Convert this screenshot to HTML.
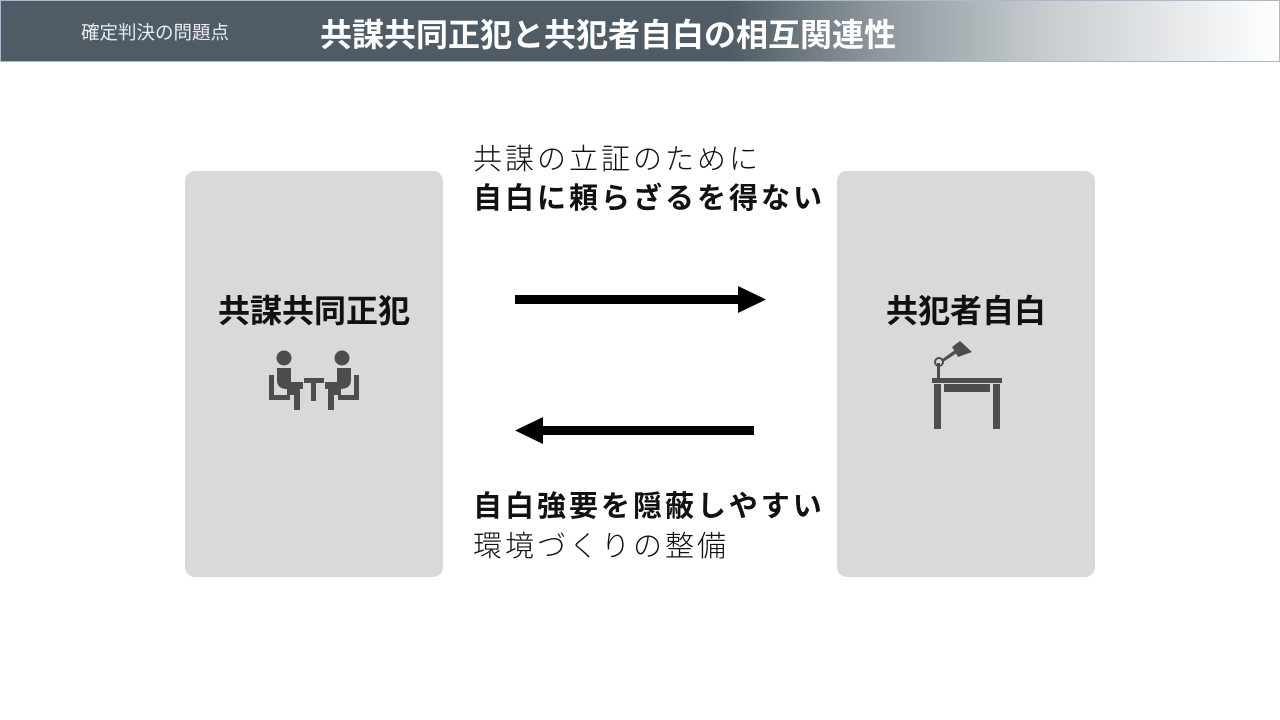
<!DOCTYPE html>
<html><head><meta charset="utf-8"><style>
body{margin:0;width:1280px;height:720px;background:#fff;position:relative;overflow:hidden;font-family:"Liberation Sans","Noto Sans CJK JP",sans-serif;}
.hdr{position:absolute;left:0;top:0;width:1278px;height:60px;border:1px solid #aab8d0;background:linear-gradient(90deg,#4f5c65 0%,#4f5c65 57%,#8a949a 68%,#c8cdd0 82%,#ffffff 100%);}
.sub{position:absolute;left:80px;top:18px;font-size:18.5px;color:#e8ecee;}
.ttl{position:absolute;left:319px;top:9px;font-size:32px;font-weight:bold;color:#fff;}
.box{position:absolute;top:171px;width:258px;height:406px;background:#d9d9d9;border-radius:10px;}
.lbl{position:absolute;width:100%;text-align:center;top:115px;font-size:32px;font-weight:bold;color:#111;}
.t{position:absolute;left:473px;font-size:29px;letter-spacing:3px;color:#111;white-space:nowrap;line-height:40px;}
.l{font-weight:300;}
.b{font-weight:bold;}
</style></head><body>
<div class="hdr"><div class="sub">確定判決の問題点</div><div class="ttl">共謀共同正犯と共犯者自白の相互関連性</div></div>
<div class="box" style="left:185px"><div class="lbl">共謀共同正犯</div>
<svg style="position:absolute;left:84px;top:178px" width="90" height="62" viewBox="0 0 90 62">
<g fill="#4d4d4d">
<circle cx="15" cy="9" r="7.5"/><circle cx="73" cy="9" r="7.5"/>
<path d="M8 19h14v14h12v7H18q-10 0-10-9z"/>
<path d="M82 19H68v14H56v7h15q11 0 11-9z"/>
<path d="M0 26h5v20h16v5H0z"/><path d="M90 26h-5v20H69v5h21z"/>
<path d="M18 40h13v21h-6V46h-7z"/><path d="M72 40H59v21h6V46h7z"/>
<rect x="35" y="29" width="20" height="5"/><rect x="42" y="34" width="5" height="18"/>
</g></svg>
</div>
<div class="box" style="left:837px"><div class="lbl">共犯者自白</div>
<svg style="position:absolute;left:93px;top:170px" width="75" height="90" viewBox="0 0 75 90">
<g fill="#4d4d4d">
<rect x="2" y="37" width="70" height="5"/>
<rect x="4" y="43" width="7" height="45"/><rect x="63" y="43" width="7" height="45"/>
<rect x="14" y="43" width="46" height="8"/>
<rect x="7" y="22" width="3" height="15"/>
<circle cx="9" cy="21" r="4" fill="none" stroke="#4d4d4d" stroke-width="2"/>
<path d="M11 19L25 9l2 3-14 9z"/>
<path d="M22 6l8-6 12 11-14 5z"/>
</g></svg>
</div>
<div class="t l" style="top:140px">共謀の立証のために</div>
<div class="t b" style="top:179px">自白に頼らざるを得ない</div>
<div class="t b" style="top:487px">自白強要を隠蔽しやすい</div>
<div class="t l" style="top:527px">環境づくりの整備</div>
<svg style="position:absolute;left:0;top:0" width="1280" height="720">
<rect x="515" y="295" width="226" height="9" fill="#000"/><path d="M738 286L766 299.5 738 313z" fill="#000"/>
<rect x="540" y="426" width="214" height="9" fill="#000"/><path d="M543 417L515 430.5 543 444z" fill="#000"/>
</svg>
</body></html>
